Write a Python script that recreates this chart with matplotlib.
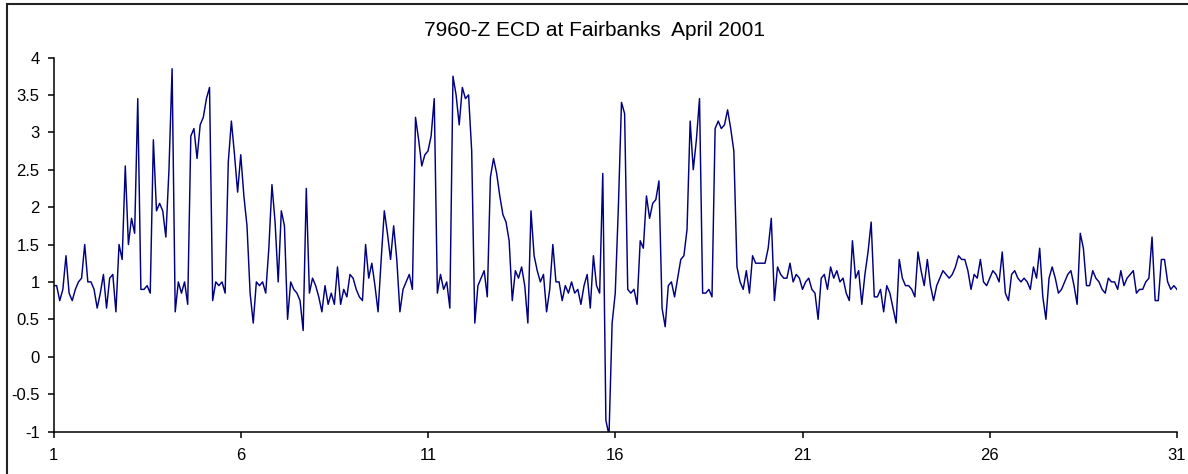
import numpy as np
import matplotlib.pyplot as plt
from matplotlib.patches import Rectangle

plt.rcParams['font.family'] = ['Liberation Sans', 'DejaVu Sans']

# ECD readings, one every 2 hours from April 1 00:00 to May 1 00:00
ecd = [
    0.95, 0.95, 0.75, 0.9, 1.35, 0.85, 0.75, 0.9, 1.0, 1.05, 1.5, 1.0,      # 1
    1.0, 0.9, 0.65, 0.85, 1.1, 0.65, 1.05, 1.1, 0.6, 1.5, 1.3, 2.55,        # 2
    1.5, 1.85, 1.65, 3.45, 0.9, 0.9, 0.95, 0.85, 2.9, 1.95, 2.05, 1.95,     # 3
    1.6, 2.5, 3.85, 0.6, 1.0, 0.85, 1.0, 0.7, 2.95, 3.05, 2.65, 3.1,        # 4
    3.2, 3.45, 3.6, 0.75, 1.0, 0.95, 1.0, 0.85, 2.6, 3.15, 2.7, 2.2,        # 5
    2.7, 2.15, 1.75, 0.85, 0.45, 1.0, 0.95, 1.0, 0.85, 1.45, 2.3, 1.8,      # 6
    1.0, 1.95, 1.75, 0.5, 1.0, 0.9, 0.85, 0.75, 0.35, 2.25, 0.85, 1.05,     # 7
    0.95, 0.8, 0.6, 0.95, 0.7, 0.85, 0.7, 1.2, 0.7, 0.9, 0.8, 1.1,          # 8
    1.05, 0.9, 0.8, 0.75, 1.5, 1.05, 1.25, 0.95, 0.6, 1.3, 1.95, 1.65,      # 9
    1.3, 1.75, 1.3, 0.6, 0.9, 1.0, 1.1, 0.9, 3.2, 2.9, 2.55, 2.7,           # 10
    2.75, 2.95, 3.45, 0.85, 1.1, 0.9, 1.0, 0.65, 3.75, 3.5, 3.1, 3.6,       # 11
    3.45, 3.5, 2.75, 0.45, 0.95, 1.05, 1.15, 0.8, 2.4, 2.65, 2.45, 2.15,    # 12
    1.9, 1.8, 1.55, 0.75, 1.15, 1.05, 1.2, 0.95, 0.45, 1.95, 1.35, 1.15,    # 13
    1.0, 1.1, 0.6, 0.9, 1.5, 1.0, 1.0, 0.75, 0.95, 0.85, 1.0, 0.85,         # 14
    0.9, 0.7, 0.95, 1.1, 0.65, 1.35, 0.95, 0.85, 2.45, -0.85, -1.05, 0.45,  # 15
    0.85, 2.0, 3.4, 3.25, 0.9, 0.85, 0.9, 0.7, 1.55, 1.45, 2.15, 1.85,      # 16
    2.05, 2.1, 2.35, 0.65, 0.4, 0.95, 1.0, 0.8, 1.05, 1.3, 1.35, 1.7,       # 17
    3.15, 2.5, 2.9, 3.45, 0.85, 0.85, 0.9, 0.8, 3.05, 3.15, 3.05, 3.1,      # 18
    3.3, 3.05, 2.75, 1.2, 1.0, 0.9, 1.15, 0.85, 1.35, 1.25, 1.25, 1.25,     # 19
    1.25, 1.45, 1.85, 0.75, 1.2, 1.1, 1.05, 1.05, 1.25, 1.0, 1.1, 1.05,     # 20
    0.9, 1.0, 1.05, 0.9, 0.85, 0.5, 1.05, 1.1, 0.9, 1.2, 1.05, 1.15,        # 21
    1.0, 1.05, 0.85, 0.75, 1.55, 1.05, 1.15, 0.7, 1.1, 1.4, 1.8, 0.8,       # 22
    0.8, 0.9, 0.6, 0.95, 0.85, 0.65, 0.45, 1.3, 1.05, 0.95, 0.95, 0.9,      # 23
    0.8, 1.4, 1.15, 0.95, 1.3, 0.95, 0.75, 0.95, 1.05, 1.15, 1.1, 1.05,     # 24
    1.1, 1.2, 1.35, 1.3, 1.3, 1.15, 0.9, 1.1, 1.05, 1.3, 1.0, 0.95,         # 25
    1.05, 1.15, 1.1, 1.0, 1.4, 0.85, 0.75, 1.1, 1.15, 1.05, 1.0, 1.05,      # 26
    1.0, 0.9, 1.2, 1.05, 1.45, 0.8, 0.5, 1.05, 1.2, 1.05, 0.85, 0.9,        # 27
    1.0, 1.1, 1.15, 0.95, 0.7, 1.65, 1.45, 0.95, 0.95, 1.15, 1.05, 1.0,     # 28
    0.9, 0.85, 1.05, 1.0, 1.0, 0.9, 1.15, 0.95, 1.05, 1.1, 1.15, 0.85,      # 29
    0.9, 0.9, 1.0, 1.05, 1.6, 0.75, 0.75, 1.3, 1.3, 1.0, 0.9, 0.95,         # 30
    0.9,
]
hours_step = 2
day = 1 + np.arange(len(ecd)) * hours_step / 24.0

day_ticks = [1, 6, 11, 16, 21, 26, 31]
ecd_ticks = [-1, -0.5, 0, 0.5, 1, 1.5, 2, 2.5, 3, 3.5, 4]

W, H = 1188, 474
fig = plt.figure(figsize=(W / 100, H / 100), dpi=100)
ax = fig.add_axes([53.5 / W, 1 - 431.5 / H, 1123.5 / W, 374 / H])

ax.plot(day, ecd, color='#000080', lw=1.05)

ax.set_xlim(1, 31)
ax.set_ylim(-1, 4)
ax.set_xticks(day_ticks)
ax.set_yticks(ecd_ticks)
ax.set_yticklabels([f'{t:g}' for t in ecd_ticks])
ax.spines['top'].set_visible(False)
ax.spines['right'].set_visible(False)
for s in ('left', 'bottom'):
    ax.spines[s].set_linewidth(1.1)
ax.tick_params(axis='both', direction='out', length=4, width=1.1, labelsize=12, colors='black')
ax.tick_params(axis='y', pad=6)
ax.tick_params(axis='x', pad=8)

fig.text(0.5, 1 - 30 / H, '7960-Z ECD at Fairbanks  April 2001', fontsize=15,
         ha='center', va='center')

# chart border (left and top edges show)
fig.patches.append(Rectangle((6.5 / W, -0.1), 1.2, 1.1 - 4 / H, transform=fig.transFigure,
                             fill=False, edgecolor='#222222', lw=1.5))

fig.savefig('out.png', dpi=100)
